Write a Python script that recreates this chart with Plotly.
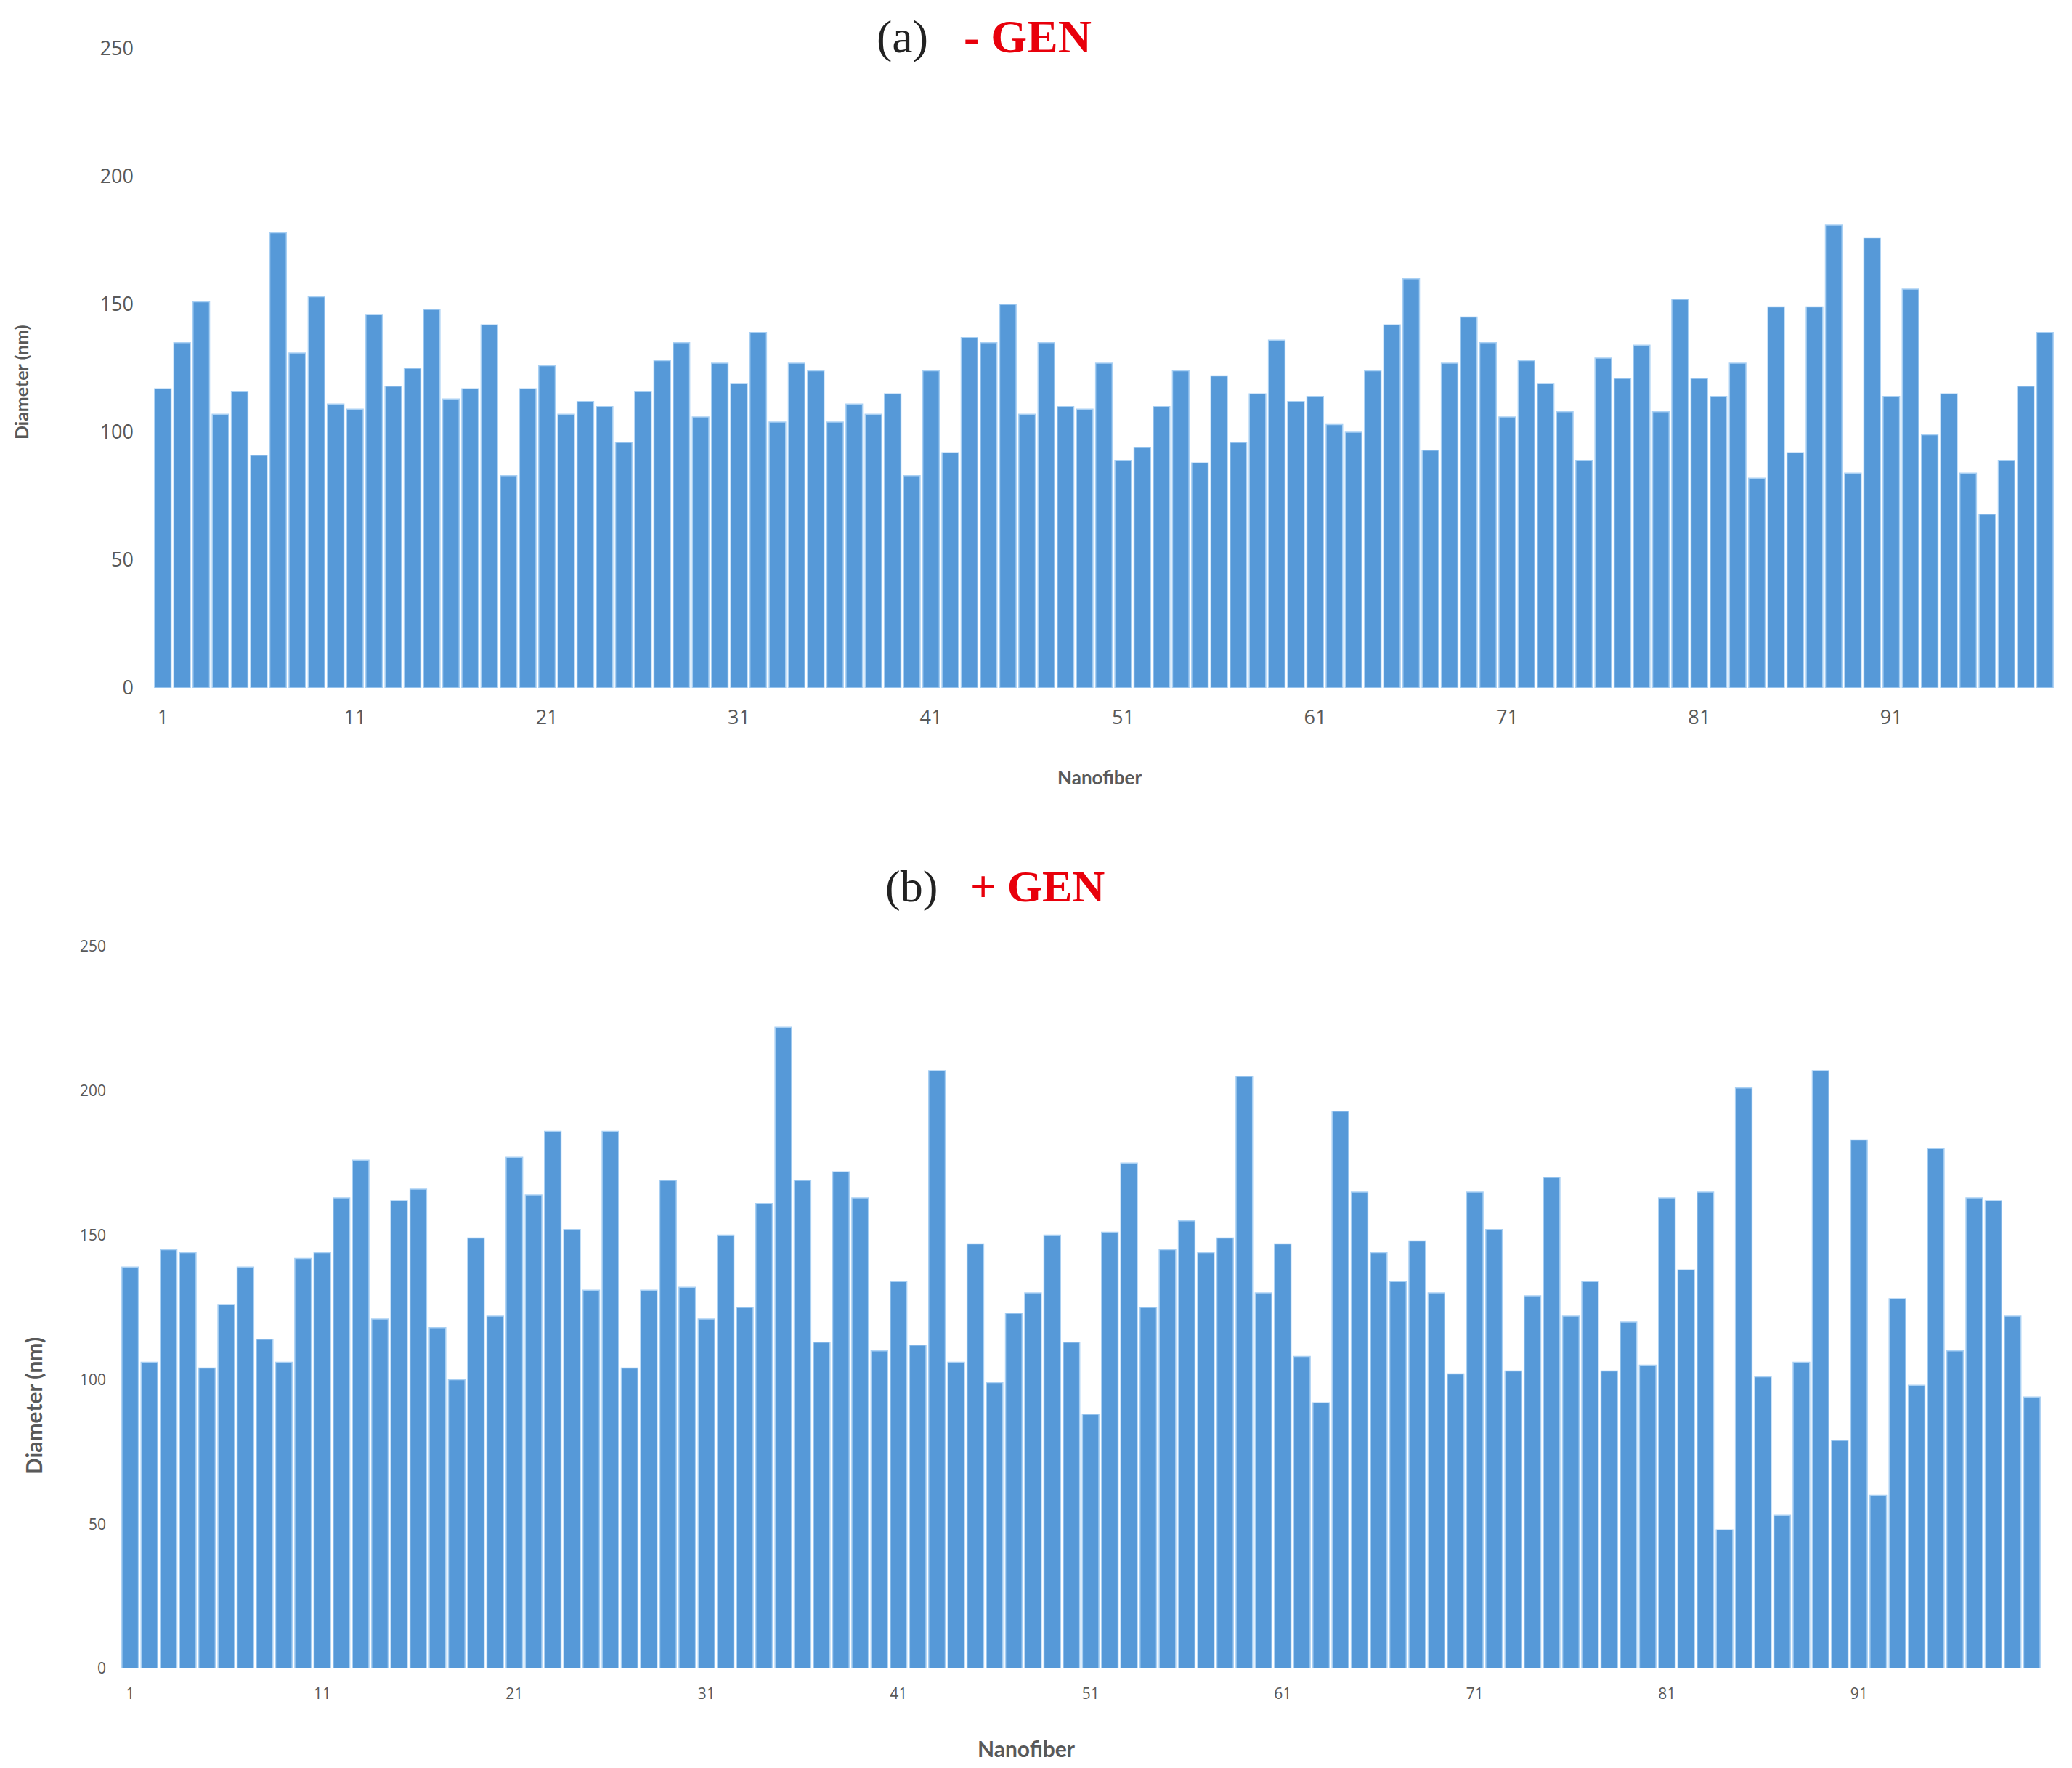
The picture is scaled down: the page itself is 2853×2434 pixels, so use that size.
import plotly.graph_objects as go
from plotly.subplots import make_subplots

# fiber diameters (nm)
diam_no_gen = [
    117, 135, 151, 107, 116, 91, 178, 131, 153, 111,
    109, 146, 118, 125, 148, 113, 117, 142, 83, 117,
    126, 107, 112, 110, 96, 116, 128, 135, 106, 127,
    119, 139, 104, 127, 124, 104, 111, 107, 115, 83,
    124, 92, 137, 135, 150, 107, 135, 110, 109, 127,
    89, 94, 110, 124, 88, 122, 96, 115, 136, 112,
    114, 103, 100, 124, 142, 160, 93, 127, 145, 135,
    106, 128, 119, 108, 89, 129, 121, 134, 108, 152,
    121, 114, 127, 82, 149, 92, 149, 181, 84, 176,
    114, 156, 99, 115, 84, 68, 89, 118, 139,
]
diam_gen = [
    139, 106, 145, 144, 104, 126, 139, 114, 106, 142,
    144, 163, 176, 121, 162, 166, 118, 100, 149, 122,
    177, 164, 186, 152, 131, 186, 104, 131, 169, 132,
    121, 150, 125, 161, 222, 169, 113, 172, 163, 110,
    134, 112, 207, 106, 147, 99, 123, 130, 150, 113,
    88, 151, 175, 125, 145, 155, 144, 149, 205, 130,
    147, 108, 92, 193, 165, 144, 134, 148, 130, 102,
    165, 152, 103, 129, 170, 122, 134, 103, 120, 105,
    163, 138, 165, 48, 201, 101, 53, 106, 207, 79,
    183, 60, 128, 98, 180, 110, 163, 162, 122, 94,
]
tick_nums = [1, 11, 21, 31, 41, 51, 61, 71, 81, 91]
y_ticks = [0, 50, 100, 150, 200, 250]

# page has an 8px body margin, so the figure is a bit smaller than the window
OFF = 8
W, H = 2853 - 2 * OFF, 2434 - 2 * OFF
bar_color = '#5699d8'
edge_color = '#a9d0f3'
grey = '#595959'

def px(x):
    return (x - OFF) / W

def py(y):
    return 1 - (y - OFF) / H

fig = make_subplots(rows=2, cols=1)

fig.add_trace(go.Bar(
    x=list(range(1, len(diam_no_gen) + 1)), y=diam_no_gen,
    marker=dict(color=bar_color, line=dict(color=edge_color, width=1.5)),
    showlegend=False
), row=1, col=1)
fig.add_trace(go.Bar(
    x=list(range(1, len(diam_gen) + 1)), y=diam_gen,
    marker=dict(color=bar_color, line=dict(color=edge_color, width=1.5)),
    showlegend=False
), row=2, col=1)

fig.update_layout(
    width=W, height=H,
    plot_bgcolor='white', paper_bgcolor='white',
    margin=dict(l=0, r=0, t=0, b=0, autoexpand=False),
    bargap=0.14,
    xaxis=dict(
        domain=[px(211), px(2829)], range=[0.5, len(diam_no_gen) + 0.5],
        tickvals=tick_nums, ticktext=[str(t) for t in tick_nums],
        showgrid=False, zeroline=False, showline=False, ticks='',
        automargin=False, ticklabelstandoff=22,
        tickfont=dict(family='Open Sans', size=27, color=grey)
    ),
    yaxis=dict(
        domain=[py(947), py(67)], range=[0, 250],
        tickvals=y_ticks,
        showgrid=False, zeroline=False, showline=False, ticks='',
        automargin=False, ticklabelstandoff=26,
        tickfont=dict(family='Open Sans', size=27, color=grey)
    ),
    xaxis2=dict(
        domain=[px(166), px(2811)], range=[0.5, len(diam_gen) + 0.5],
        tickvals=tick_nums, ticktext=[str(t) for t in tick_nums],
        showgrid=False, zeroline=False, showline=False, ticks='',
        automargin=False, ticklabelstandoff=20,
        tickfont=dict(family='Open Sans', size=21, color=grey)
    ),
    yaxis2=dict(
        domain=[py(2297), py(1303)], range=[0, 250],
        tickvals=y_ticks,
        showgrid=False, zeroline=False, showline=False, ticks='',
        automargin=False, ticklabelstandoff=19,
        tickfont=dict(family='Open Sans', size=21, color=grey)
    ),
)

def note(text, x, y, size, color, family, angle=0):
    fig.add_annotation(
        text=text, x=px(x), y=py(y), xref='paper', yref='paper',
        showarrow=False, textangle=angle, xanchor='center', yanchor='middle',
        font=dict(family=family, size=size, color=color)
    )

# panel titles
note('(a)', 1242, 50, 64, '#222222', 'Liberation Serif')
note('<b>- GEN</b>', 1415, 50, 64, '#e8000b', 'Liberation Serif')
note('(b)', 1255, 1220, 62, '#222222', 'Liberation Serif')
note('<b>+ GEN</b>', 1428, 1220, 62, '#e8000b', 'Liberation Serif')

# axis titles
note('<b>Diameter (nm)</b>', 29, 526, 25, grey, 'Lato', angle=-90)
note('<b>Nanofiber</b>', 1514, 1070, 26, grey, 'Lato')
note('<b>Diameter (nm)</b>', 46, 1936, 30, grey, 'Lato', angle=-90)
note('<b>Nanofiber</b>', 1413, 2407, 30, grey, 'Lato')

fig.write_html("out.html")
